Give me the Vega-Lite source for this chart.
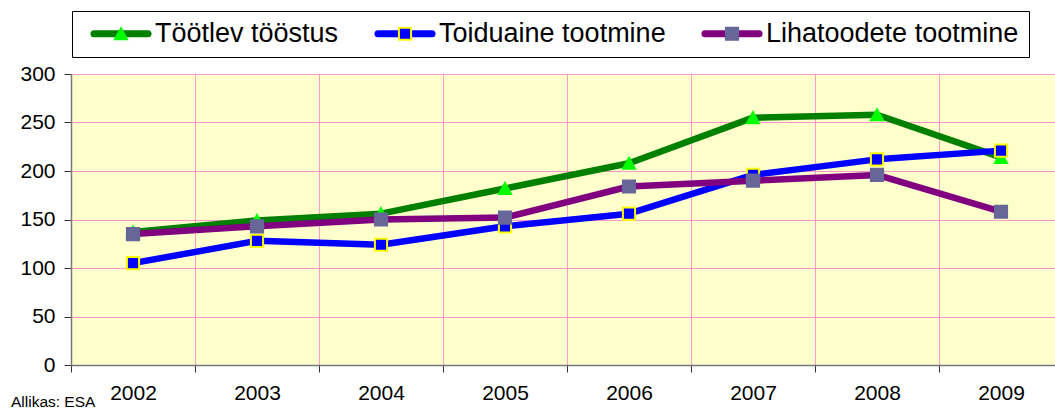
{
  "$schema": "https://vega.github.io/schema/vega-lite/v6.json",
  "width": 984,
  "height": 291,
  "autosize": {"type": "none"},
  "padding": {"left": 71, "top": 74, "right": 0, "bottom": 45},
  "background": "white",
  "config": {"font": "Liberation Sans", "view": {"fill": "#FFFFCC", "stroke": null}},
  "title": {"text": "Allikas: ESA", "orient": "bottom", "anchor": "start", "frame": "bounds", "fontSize": 15.5, "fontWeight": "normal", "color": "#000", "font": "Liberation Sans", "offset": -8, "dx": -9},
  "data": {"values": [
    {"year": "2002", "series": "Töötlev tööstus", "value": 137},
    {"year": "2003", "series": "Töötlev tööstus", "value": 149},
    {"year": "2004", "series": "Töötlev tööstus", "value": 156},
    {"year": "2005", "series": "Töötlev tööstus", "value": 182},
    {"year": "2006", "series": "Töötlev tööstus", "value": 208},
    {"year": "2007", "series": "Töötlev tööstus", "value": 255},
    {"year": "2008", "series": "Töötlev tööstus", "value": 258},
    {"year": "2009", "series": "Töötlev tööstus", "value": 214},
    {"year": "2002", "series": "Toiduaine tootmine", "value": 105},
    {"year": "2003", "series": "Toiduaine tootmine", "value": 128},
    {"year": "2004", "series": "Toiduaine tootmine", "value": 124},
    {"year": "2005", "series": "Toiduaine tootmine", "value": 143},
    {"year": "2006", "series": "Toiduaine tootmine", "value": 156},
    {"year": "2007", "series": "Toiduaine tootmine", "value": 196},
    {"year": "2008", "series": "Toiduaine tootmine", "value": 212},
    {"year": "2009", "series": "Toiduaine tootmine", "value": 221},
    {"year": "2002", "series": "Lihatoodete tootmine", "value": 135},
    {"year": "2003", "series": "Lihatoodete tootmine", "value": 143},
    {"year": "2004", "series": "Lihatoodete tootmine", "value": 150},
    {"year": "2005", "series": "Lihatoodete tootmine", "value": 152},
    {"year": "2006", "series": "Lihatoodete tootmine", "value": 184},
    {"year": "2007", "series": "Lihatoodete tootmine", "value": 190},
    {"year": "2008", "series": "Lihatoodete tootmine", "value": 196},
    {"year": "2009", "series": "Lihatoodete tootmine", "value": 158}
  ]},
  "encoding": {
    "x": {
      "field": "year", "type": "ordinal",
      "scale": {"type": "band", "range": [0, 992], "paddingInner": 0, "paddingOuter": 0},
      "axis": {"title": null, "tickBand": "extent", "grid": true, "gridColor": "#FF99CC", "gridWidth": 1, "domainColor": "#777", "domainWidth": 1.5, "tickColor": "#333", "tickSize": 7, "labelFontSize": 21, "labelColor": "#000", "labelPadding": 10, "labelAngle": 0}
    },
    "y": {
      "field": "value", "type": "quantitative",
      "scale": {"domain": [0, 300], "nice": false},
      "axis": {"title": null, "values": [0, 50, 100, 150, 200, 250, 300], "grid": true, "gridColor": "#FF99CC", "gridWidth": 1, "domainColor": "#777", "domainWidth": 1.5, "tickColor": "#333", "tickSize": 7, "labelFontSize": 21, "labelColor": "#000", "labelPadding": 9}
    }
  },
  "layer": [
    {
      "mark": {"type": "line", "strokeWidth": 6.5, "strokeJoin": "round", "strokeCap": "round"},
      "encoding": {
        "color": {
          "field": "series", "type": "nominal",
          "scale": {"domain": ["Töötlev tööstus", "Toiduaine tootmine", "Lihatoodete tootmine"], "range": ["#008000", "#0000FF", "#800080"]},
          "legend": {"orient": "none", "legendX": 1, "legendY": -63, "direction": "horizontal", "columns": 3, "title": null,
            "symbolType": "M-1.02,0H1.02", "symbolSize": 2809, "symbolStrokeWidth": 7, "clipHeight": 25,
            "labelFontSize": 27, "labelFont": "Liberation Sans", "labelColor": "#000", "labelLimit": 500,
            "labelOffset": 4, "symbolOffset": 9, "columnPadding": 27, "padding": 10, "strokeColor": "#000",
            "encode": {"symbols": {"update": {"strokeCap": {"value": "round"}}}}}
        }
      }
    },
    {
      "mark": {"type": "point", "filled": true, "size": 3364, "strokeWidth": 2, "opacity": 1},
      "encoding": {
        "fill": {
          "field": "series", "type": "nominal", "sort": ["Töötlev tööstus", "Toiduaine tootmine", "Lihatoodete tootmine"],
          "scale": {"range": ["#00FF00", "#0000FF", "#666699"]},
          "legend": null
        },
        "stroke": {
          "field": "series", "type": "nominal", "sort": ["Töötlev tööstus", "Toiduaine tootmine", "Lihatoodete tootmine"],
          "scale": {"range": ["#00FF00", "#FFFF00", "#666699"]},
          "legend": {"orient": "none", "legendX": 1, "legendY": -63, "direction": "horizontal", "columns": 3, "title": null,
            "symbolSize": 3364, "symbolStrokeWidth": 2, "clipHeight": 25,
            "symbolFillColor": {"expr": "scale('fill', datum.value)"},
            "symbolStrokeColor": {"expr": "scale('stroke', datum.value)"},
            "symbolType": {"expr": "scale('shape', datum.value)"},
            "symbolOpacity": 1,
            "labelFontSize": 27, "labelFont": "Liberation Sans", "labelColor": "#000", "labelLimit": 500, "labelOpacity": 0,
            "labelOffset": 4, "symbolOffset": 9, "columnPadding": 27, "padding": 10}
        },
        "shape": {
          "field": "series", "type": "nominal", "sort": ["Töötlev tööstus", "Toiduaine tootmine", "Lihatoodete tootmine"],
          "scale": {"range": ["M0,-0.19L0.207,0.19L-0.207,0.19Z", "M-0.21,-0.21H0.21V0.21H-0.21Z", "M-0.21,-0.21H0.21V0.21H-0.21Z"]},
          "legend": null
        }
      }
    }
  ]
}
